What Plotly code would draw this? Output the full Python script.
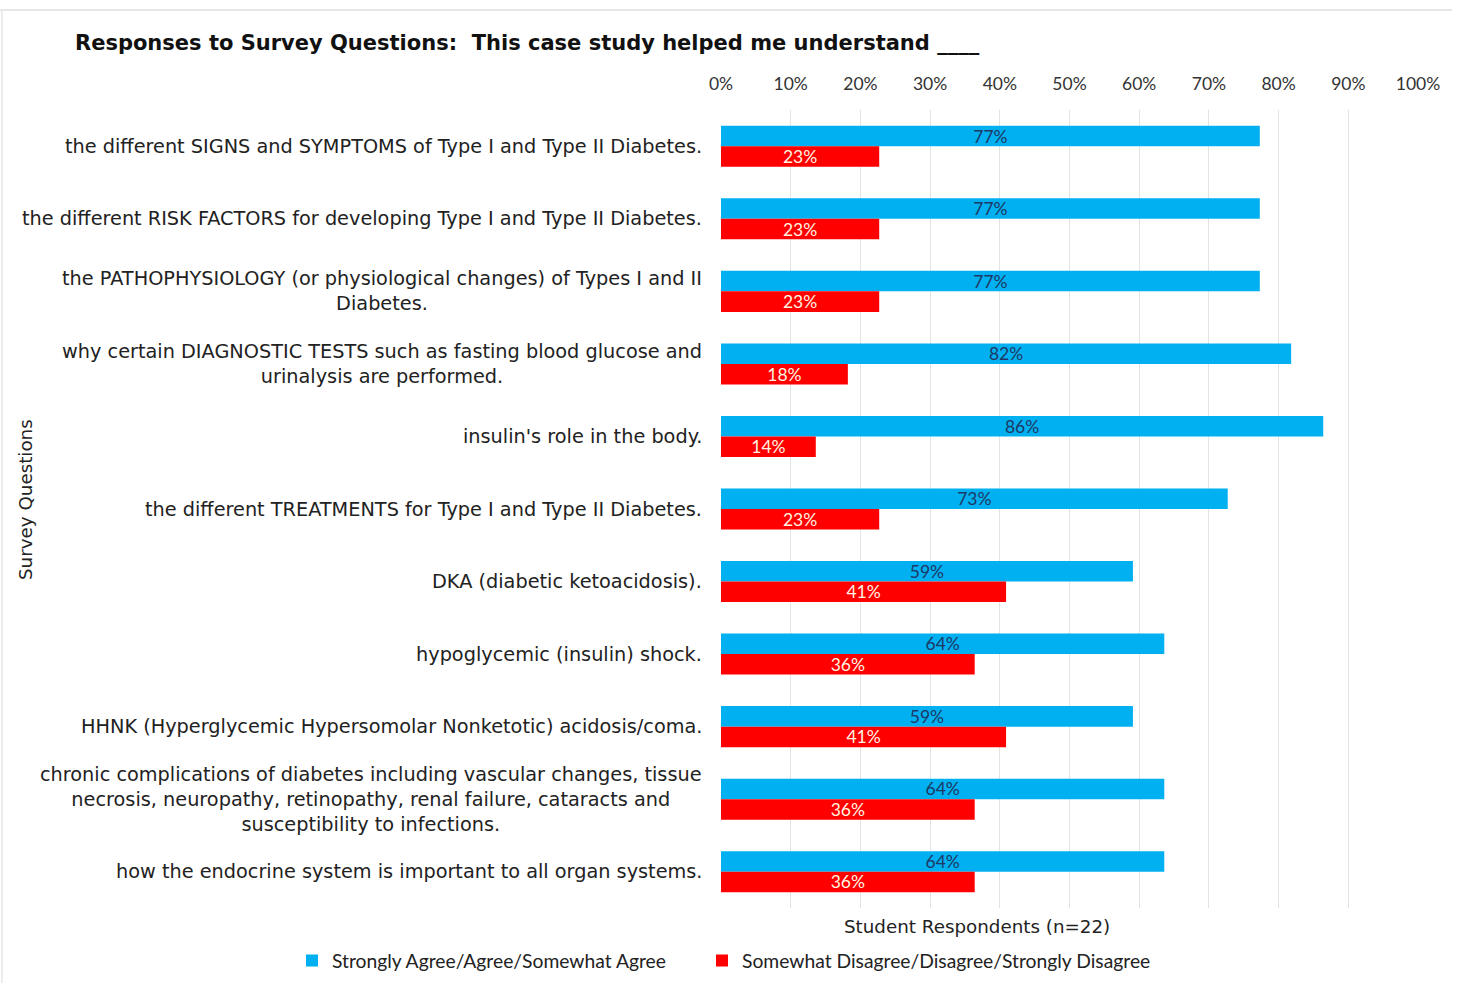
import plotly.graph_objects as go

questions = [
    "the different SIGNS and SYMPTOMS of Type I and Type II Diabetes.",
    "the different RISK FACTORS for developing Type I and Type II Diabetes.",
    "the PATHOPHYSIOLOGY (or physiological changes) of Types I and II<br>Diabetes.",
    "why certain DIAGNOSTIC TESTS such as fasting blood glucose and<br>urinalysis are performed.",
    "insulin's role in the body.",
    "the different TREATMENTS for Type I and Type II Diabetes.",
    "DKA (diabetic ketoacidosis).",
    "hypoglycemic (insulin) shock.",
    "HHNK (Hyperglycemic Hypersomolar Nonketotic) acidosis/coma.",
    "chronic complications of diabetes including vascular changes, tissue<br>necrosis, neuropathy, retinopathy, renal failure, cataracts and<br>susceptibility to infections.",
    "how the endocrine system is important to all organ systems.",
]
agree = [77.3, 77.3, 77.3, 81.8, 86.4, 72.7, 59.1, 63.6, 59.1, 63.6, 63.6]
disagree = [22.7, 22.7, 22.7, 18.2, 13.6, 22.7, 40.9, 36.4, 40.9, 36.4, 36.4]
series_names = ["Strongly Agree/Agree/Somewhat Agree",
                "Somewhat Disagree/Disagree/Strongly Disagree"]
tick_vals = [0, 10, 20, 30, 40, 50, 60, 70, 80, 90, 100]
tick_text = [f"{v}%" for v in tick_vals]

BLUE = "#00b0f0"
RED = "#ff0000"
LABEL_FONT = "DejaVu Sans, Liberation Sans, Arial, sans-serif"
NUM_FONT = "Lato, sans-serif"

W, H = 1460, 983
L, R, T, B = 721, 42, 110, 75
PW, PH = W - L - R, H - T - B


def px_x(px):
    return (px - L) / PW


def px_y(py):
    return 1 - (py - T) / PH


fig = go.Figure()
fig.add_trace(go.Bar(
    y=questions, x=agree, orientation="h", name=series_names[0],
    marker=dict(color=BLUE, line=dict(width=0)),
    texttemplate="%{x:.0f}%", textposition="inside", insidetextanchor="middle",
    constraintext="none", textangle=0,
    insidetextfont=dict(family=NUM_FONT, size=17.5, color="#1f3864"),
    legend="legend",
))
fig.add_trace(go.Bar(
    y=questions, x=disagree, orientation="h", name=series_names[1],
    marker=dict(color=RED, line=dict(width=0)),
    texttemplate="%{x:.0f}%", textposition="inside", insidetextanchor="middle",
    constraintext="none", textangle=0,
    insidetextfont=dict(family=NUM_FONT, size=17.5, color="#fff4e0"),
    legend="legend2",
))

annotations = []
for q in questions:
    annotations.append(dict(
        x=0, xref="paper", y=q, yref="y", text=q, showarrow=False,
        xanchor="right", yanchor="middle", align="center", xshift=-17,
        font=dict(family=LABEL_FONT, size=19.3, color="#222222"),
    ))
annotations.append(dict(
    x=px_x(977), xref="paper", y=px_y(927), yref="paper",
    text="Student Respondents (n=22)", showarrow=False,
    xanchor="center", yanchor="middle",
    font=dict(family=LABEL_FONT, size=18.3, color="#222222"),
))
annotations.append(dict(
    x=px_x(25), xref="paper", y=px_y(500), yref="paper", text="Survey Questions",
    showarrow=False, textangle=-90, xanchor="center", yanchor="middle",
    font=dict(family=LABEL_FONT, size=18.3, color="#222222"),
))

shapes = [
    dict(type="line", xref="paper", yref="paper",
         x0=px_x(0), x1=px_x(1452), y0=px_y(10), y1=px_y(10),
         line=dict(color="#e6e6e6", width=2)),
    dict(type="line", xref="paper", yref="paper",
         x0=px_x(2), x1=px_x(2), y0=px_y(10), y1=px_y(983),
         line=dict(color="#ececec", width=2)),
]

legend_common = dict(
    orientation="h", xref="container", yref="container",
    xanchor="left", yanchor="middle", y=1 - 961 / H,
    font=dict(family=NUM_FONT, size=19.3, color="#222222"),
    itemwidth=30, bgcolor="rgba(0,0,0,0)",
)

fig.update_layout(
    width=W, height=H,
    margin=dict(l=L, r=R, t=T, b=B),
    paper_bgcolor="white", plot_bgcolor="white",
    barmode="group", bargap=0.434, bargroupgap=0,
    title=dict(
        text="<b>Responses to Survey Questions:  This case study helped me understand ____</b>",
        x=75 / W, xanchor="left", xref="container",
        y=1 - 43 / H, yanchor="middle", yref="container",
        font=dict(family=LABEL_FONT, size=21, color="#111111"),
    ),
    xaxis=dict(
        side="top", range=[0, 100], tickvals=tick_vals, ticktext=tick_text,
        showgrid=True, gridcolor="#e3e3e3", gridwidth=1, zeroline=False,
        showline=False, ticks="", ticklabelstandoff=16,
        tickfont=dict(family=NUM_FONT, size=17.5, color="#333333"),
        fixedrange=True,
    ),
    yaxis=dict(
        autorange="reversed", showticklabels=False, showgrid=False,
        zeroline=False, showline=False, ticks="",
    ),
    legend=dict(legend_common, x=292 / W),
    legend2=dict(legend_common, x=702 / W),
    annotations=annotations,
    shapes=shapes,
    showlegend=True,
)

fig.write_html("out.html")
